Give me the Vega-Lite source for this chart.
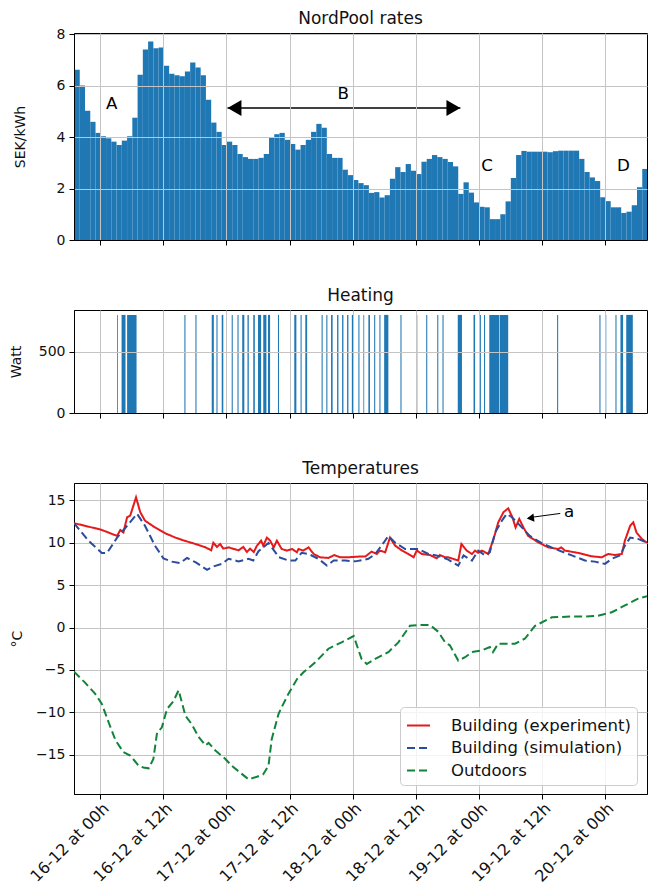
{
  "$schema": "https://vega.github.io/schema/vega-lite/v6.json",
  "padding": {"left": 8, "top": 9, "right": 0, "bottom": 0},
  "spacing": 70,
  "bounds": "flush",
  "config": {
    "font": "DejaVu Sans",
    "view": {"stroke": "#000", "strokeWidth": 1},
    "axis": {"domainColor": "#000", "domainWidth": 1, "tickColor": "#000", "tickSize": 5, "tickWidth": 1, "labelFontSize": 14, "labelColor": "#111", "labelPadding": 4, "titleFontSize": 14, "titleFontWeight": "normal", "titleColor": "#111", "gridColor": "#c4c4c4", "gridWidth": 1},
    "title": {"fontSize": 17, "fontWeight": "normal", "color": "#111"},
    "legend": {"fillColor": "rgba(255,255,255,0.8)", "strokeColor": "#cccccc", "cornerRadius": 4, "padding": 6, "symbolType": "stroke", "symbolSize": 529, "symbolStrokeWidth": 2, "labelFontSize": 16.5, "labelColor": "#111", "rowPadding": 1.5, "labelOffset": 20, "labelLimit": 400}
  },
  "datasets": {
    "price": [
      {"t": "2022-12-15T19:00Z", "p": 6.61}, {"t": "2022-12-15T20:00Z", "p": 6.0}, {"t": "2022-12-15T21:00Z", "p": 5.02}, {"t": "2022-12-15T22:00Z", "p": 4.59}, {"t": "2022-12-15T23:00Z", "p": 4.16},
      {"t": "2022-12-16T00:00Z", "p": 4.03}, {"t": "2022-12-16T01:00Z", "p": 3.95}, {"t": "2022-12-16T02:00Z", "p": 3.82}, {"t": "2022-12-16T03:00Z", "p": 3.69}, {"t": "2022-12-16T04:00Z", "p": 3.86}, {"t": "2022-12-16T05:00Z", "p": 4.03}, {"t": "2022-12-16T06:00Z", "p": 4.75}, {"t": "2022-12-16T07:00Z", "p": 6.42}, {"t": "2022-12-16T08:00Z", "p": 7.4}, {"t": "2022-12-16T09:00Z", "p": 7.71}, {"t": "2022-12-16T10:00Z", "p": 7.45}, {"t": "2022-12-16T11:00Z", "p": 7.48}, {"t": "2022-12-16T12:00Z", "p": 6.77}, {"t": "2022-12-16T13:00Z", "p": 6.46}, {"t": "2022-12-16T14:00Z", "p": 6.4}, {"t": "2022-12-16T15:00Z", "p": 6.36}, {"t": "2022-12-16T16:00Z", "p": 6.54}, {"t": "2022-12-16T17:00Z", "p": 6.89}, {"t": "2022-12-16T18:00Z", "p": 6.7}, {"t": "2022-12-16T19:00Z", "p": 6.4}, {"t": "2022-12-16T20:00Z", "p": 5.45}, {"t": "2022-12-16T21:00Z", "p": 4.56}, {"t": "2022-12-16T22:00Z", "p": 4.2}, {"t": "2022-12-16T23:00Z", "p": 3.69},
      {"t": "2022-12-17T00:00Z", "p": 3.82}, {"t": "2022-12-17T01:00Z", "p": 3.69}, {"t": "2022-12-17T02:00Z", "p": 3.34}, {"t": "2022-12-17T03:00Z", "p": 3.22}, {"t": "2022-12-17T04:00Z", "p": 3.15}, {"t": "2022-12-17T05:00Z", "p": 3.15}, {"t": "2022-12-17T06:00Z", "p": 3.19}, {"t": "2022-12-17T07:00Z", "p": 3.34}, {"t": "2022-12-17T08:00Z", "p": 3.97}, {"t": "2022-12-17T09:00Z", "p": 4.11}, {"t": "2022-12-17T10:00Z", "p": 4.16}, {"t": "2022-12-17T11:00Z", "p": 3.89}, {"t": "2022-12-17T12:00Z", "p": 3.73}, {"t": "2022-12-17T13:00Z", "p": 3.51}, {"t": "2022-12-17T14:00Z", "p": 3.69}, {"t": "2022-12-17T15:00Z", "p": 3.89}, {"t": "2022-12-17T16:00Z", "p": 4.2}, {"t": "2022-12-17T17:00Z", "p": 4.51}, {"t": "2022-12-17T18:00Z", "p": 4.36}, {"t": "2022-12-17T19:00Z", "p": 3.34}, {"t": "2022-12-17T20:00Z", "p": 3.19}, {"t": "2022-12-17T21:00Z", "p": 3.19}, {"t": "2022-12-17T22:00Z", "p": 2.73}, {"t": "2022-12-17T23:00Z", "p": 2.52},
      {"t": "2022-12-18T00:00Z", "p": 2.33}, {"t": "2022-12-18T01:00Z", "p": 2.21}, {"t": "2022-12-18T02:00Z", "p": 2.13}, {"t": "2022-12-18T03:00Z", "p": 1.83}, {"t": "2022-12-18T04:00Z", "p": 1.86}, {"t": "2022-12-18T05:00Z", "p": 1.65}, {"t": "2022-12-18T06:00Z", "p": 1.74}, {"t": "2022-12-18T07:00Z", "p": 2.38}, {"t": "2022-12-18T08:00Z", "p": 2.83}, {"t": "2022-12-18T09:00Z", "p": 2.64}, {"t": "2022-12-18T10:00Z", "p": 2.95}, {"t": "2022-12-18T11:00Z", "p": 2.69}, {"t": "2022-12-18T12:00Z", "p": 2.56}, {"t": "2022-12-18T13:00Z", "p": 3.04}, {"t": "2022-12-18T14:00Z", "p": 3.15}, {"t": "2022-12-18T15:00Z", "p": 3.3}, {"t": "2022-12-18T16:00Z", "p": 3.22}, {"t": "2022-12-18T17:00Z", "p": 3.15}, {"t": "2022-12-18T18:00Z", "p": 3.03}, {"t": "2022-12-18T19:00Z", "p": 2.86}, {"t": "2022-12-18T20:00Z", "p": 1.79}, {"t": "2022-12-18T21:00Z", "p": 2.24}, {"t": "2022-12-18T22:00Z", "p": 1.84}, {"t": "2022-12-18T23:00Z", "p": 1.46},
      {"t": "2022-12-19T00:00Z", "p": 1.29}, {"t": "2022-12-19T01:00Z", "p": 1.27}, {"t": "2022-12-19T02:00Z", "p": 0.81}, {"t": "2022-12-19T03:00Z", "p": 0.81}, {"t": "2022-12-19T04:00Z", "p": 1.0}, {"t": "2022-12-19T05:00Z", "p": 1.5}, {"t": "2022-12-19T06:00Z", "p": 2.41}, {"t": "2022-12-19T07:00Z", "p": 3.3}, {"t": "2022-12-19T08:00Z", "p": 3.46}, {"t": "2022-12-19T09:00Z", "p": 3.43}, {"t": "2022-12-19T10:00Z", "p": 3.43}, {"t": "2022-12-19T11:00Z", "p": 3.43}, {"t": "2022-12-19T12:00Z", "p": 3.43}, {"t": "2022-12-19T13:00Z", "p": 3.41}, {"t": "2022-12-19T14:00Z", "p": 3.45}, {"t": "2022-12-19T15:00Z", "p": 3.47}, {"t": "2022-12-19T16:00Z", "p": 3.47}, {"t": "2022-12-19T17:00Z", "p": 3.47}, {"t": "2022-12-19T18:00Z", "p": 3.47}, {"t": "2022-12-19T19:00Z", "p": 3.15}, {"t": "2022-12-19T20:00Z", "p": 2.64}, {"t": "2022-12-19T21:00Z", "p": 2.43}, {"t": "2022-12-19T22:00Z", "p": 2.29}, {"t": "2022-12-19T23:00Z", "p": 1.66},
      {"t": "2022-12-20T00:00Z", "p": 1.51}, {"t": "2022-12-20T01:00Z", "p": 1.27}, {"t": "2022-12-20T02:00Z", "p": 1.27}, {"t": "2022-12-20T03:00Z", "p": 1.05}, {"t": "2022-12-20T04:00Z", "p": 1.1}, {"t": "2022-12-20T05:00Z", "p": 1.35}, {"t": "2022-12-20T06:00Z", "p": 2.05}, {"t": "2022-12-20T07:00Z", "p": 2.76}
    ],
    "heat": [
      {"start": "2022-12-16T03:12Z", "end": "2022-12-16T03:21Z", "w": 800},
      {"start": "2022-12-16T04:03Z", "end": "2022-12-16T04:48Z", "w": 800},
      {"start": "2022-12-16T05:06Z", "end": "2022-12-16T06:54Z", "w": 800},
      {"start": "2022-12-16T16:00Z", "end": "2022-12-16T16:12Z", "w": 800},
      {"start": "2022-12-16T18:06Z", "end": "2022-12-16T18:18Z", "w": 800},
      {"start": "2022-12-16T21:12Z", "end": "2022-12-16T21:36Z", "w": 800},
      {"start": "2022-12-16T22:06Z", "end": "2022-12-16T22:18Z", "w": 800},
      {"start": "2022-12-16T23:06Z", "end": "2022-12-16T23:24Z", "w": 800},
      {"start": "2022-12-17T01:00Z", "end": "2022-12-17T01:12Z", "w": 800},
      {"start": "2022-12-17T02:06Z", "end": "2022-12-17T02:18Z", "w": 800},
      {"start": "2022-12-17T03:00Z", "end": "2022-12-17T03:24Z", "w": 800},
      {"start": "2022-12-17T04:00Z", "end": "2022-12-17T04:15Z", "w": 800},
      {"start": "2022-12-17T05:06Z", "end": "2022-12-17T05:24Z", "w": 800},
      {"start": "2022-12-17T06:00Z", "end": "2022-12-17T06:36Z", "w": 800},
      {"start": "2022-12-17T07:00Z", "end": "2022-12-17T07:36Z", "w": 800},
      {"start": "2022-12-17T07:54Z", "end": "2022-12-17T08:18Z", "w": 800},
      {"start": "2022-12-17T09:48Z", "end": "2022-12-17T10:00Z", "w": 800},
      {"start": "2022-12-17T12:54Z", "end": "2022-12-17T13:18Z", "w": 800},
      {"start": "2022-12-17T14:06Z", "end": "2022-12-17T14:18Z", "w": 800},
      {"start": "2022-12-17T15:00Z", "end": "2022-12-17T15:21Z", "w": 800},
      {"start": "2022-12-17T18:06Z", "end": "2022-12-17T18:18Z", "w": 800},
      {"start": "2022-12-17T19:00Z", "end": "2022-12-17T19:12Z", "w": 800},
      {"start": "2022-12-17T19:54Z", "end": "2022-12-17T20:12Z", "w": 800},
      {"start": "2022-12-17T21:03Z", "end": "2022-12-17T21:18Z", "w": 800},
      {"start": "2022-12-17T22:00Z", "end": "2022-12-17T22:15Z", "w": 800},
      {"start": "2022-12-17T22:57Z", "end": "2022-12-17T23:12Z", "w": 800},
      {"start": "2022-12-17T23:51Z", "end": "2022-12-18T00:06Z", "w": 800},
      {"start": "2022-12-18T01:06Z", "end": "2022-12-18T01:18Z", "w": 800},
      {"start": "2022-12-18T02:03Z", "end": "2022-12-18T02:12Z", "w": 800},
      {"start": "2022-12-18T03:00Z", "end": "2022-12-18T03:18Z", "w": 800},
      {"start": "2022-12-18T04:06Z", "end": "2022-12-18T04:18Z", "w": 800},
      {"start": "2022-12-18T05:06Z", "end": "2022-12-18T05:18Z", "w": 800},
      {"start": "2022-12-18T06:00Z", "end": "2022-12-18T06:48Z", "w": 800},
      {"start": "2022-12-18T09:06Z", "end": "2022-12-18T09:18Z", "w": 800},
      {"start": "2022-12-18T12:06Z", "end": "2022-12-18T12:18Z", "w": 800},
      {"start": "2022-12-18T14:00Z", "end": "2022-12-18T14:12Z", "w": 800},
      {"start": "2022-12-18T16:06Z", "end": "2022-12-18T16:18Z", "w": 800},
      {"start": "2022-12-18T17:06Z", "end": "2022-12-18T17:18Z", "w": 800},
      {"start": "2022-12-18T20:00Z", "end": "2022-12-18T20:48Z", "w": 800},
      {"start": "2022-12-18T23:00Z", "end": "2022-12-18T23:18Z", "w": 800},
      {"start": "2022-12-19T00:06Z", "end": "2022-12-19T00:24Z", "w": 800},
      {"start": "2022-12-19T01:00Z", "end": "2022-12-19T01:12Z", "w": 800},
      {"start": "2022-12-19T02:00Z", "end": "2022-12-19T03:54Z", "w": 800},
      {"start": "2022-12-19T04:00Z", "end": "2022-12-19T05:36Z", "w": 800},
      {"start": "2022-12-19T14:54Z", "end": "2022-12-19T15:06Z", "w": 800},
      {"start": "2022-12-19T22:57Z", "end": "2022-12-19T23:09Z", "w": 800},
      {"start": "2022-12-20T00:03Z", "end": "2022-12-20T00:15Z", "w": 800},
      {"start": "2022-12-20T02:00Z", "end": "2022-12-20T02:12Z", "w": 800},
      {"start": "2022-12-20T02:57Z", "end": "2022-12-20T03:27Z", "w": 800},
      {"start": "2022-12-20T04:03Z", "end": "2022-12-20T05:18Z", "w": 800}
    ],
    "temp": [
      {"s": "Building (experiment)", "t": "2022-12-15T19:00Z", "T": 12.3},
      {"s": "Building (experiment)", "t": "2022-12-15T22:24Z", "T": 11.8},
      {"s": "Building (experiment)", "t": "2022-12-16T00:18Z", "T": 11.5},
      {"s": "Building (experiment)", "t": "2022-12-16T03:12Z", "T": 10.8},
      {"s": "Building (experiment)", "t": "2022-12-16T03:48Z", "T": 11.5},
      {"s": "Building (experiment)", "t": "2022-12-16T04:24Z", "T": 11.2},
      {"s": "Building (experiment)", "t": "2022-12-16T05:06Z", "T": 13.0},
      {"s": "Building (experiment)", "t": "2022-12-16T05:42Z", "T": 13.2},
      {"s": "Building (experiment)", "t": "2022-12-16T06:48Z", "T": 15.35},
      {"s": "Building (experiment)", "t": "2022-12-16T07:36Z", "T": 13.6},
      {"s": "Building (experiment)", "t": "2022-12-16T08:30Z", "T": 12.6},
      {"s": "Building (experiment)", "t": "2022-12-16T10:24Z", "T": 11.8},
      {"s": "Building (experiment)", "t": "2022-12-16T12:24Z", "T": 11.1},
      {"s": "Building (experiment)", "t": "2022-12-16T14:18Z", "T": 10.6},
      {"s": "Building (experiment)", "t": "2022-12-16T16:12Z", "T": 10.2},
      {"s": "Building (experiment)", "t": "2022-12-16T18:06Z", "T": 9.85},
      {"s": "Building (experiment)", "t": "2022-12-16T20:00Z", "T": 9.46},
      {"s": "Building (experiment)", "t": "2022-12-16T21:06Z", "T": 9.1},
      {"s": "Building (experiment)", "t": "2022-12-16T21:30Z", "T": 10.0},
      {"s": "Building (experiment)", "t": "2022-12-16T22:12Z", "T": 9.5},
      {"s": "Building (experiment)", "t": "2022-12-16T22:48Z", "T": 9.85},
      {"s": "Building (experiment)", "t": "2022-12-16T23:24Z", "T": 9.3},
      {"s": "Building (experiment)", "t": "2022-12-17T00:24Z", "T": 9.45},
      {"s": "Building (experiment)", "t": "2022-12-17T02:18Z", "T": 9.1},
      {"s": "Building (experiment)", "t": "2022-12-17T03:12Z", "T": 9.5},
      {"s": "Building (experiment)", "t": "2022-12-17T03:54Z", "T": 8.9},
      {"s": "Building (experiment)", "t": "2022-12-17T04:30Z", "T": 9.3},
      {"s": "Building (experiment)", "t": "2022-12-17T05:12Z", "T": 8.9},
      {"s": "Building (experiment)", "t": "2022-12-17T05:48Z", "T": 9.65},
      {"s": "Building (experiment)", "t": "2022-12-17T06:36Z", "T": 10.25},
      {"s": "Building (experiment)", "t": "2022-12-17T07:00Z", "T": 9.65},
      {"s": "Building (experiment)", "t": "2022-12-17T07:42Z", "T": 10.6},
      {"s": "Building (experiment)", "t": "2022-12-17T08:18Z", "T": 10.25},
      {"s": "Building (experiment)", "t": "2022-12-17T09:00Z", "T": 9.45},
      {"s": "Building (experiment)", "t": "2022-12-17T09:36Z", "T": 10.25},
      {"s": "Building (experiment)", "t": "2022-12-17T10:30Z", "T": 9.26},
      {"s": "Building (experiment)", "t": "2022-12-17T11:30Z", "T": 9.07},
      {"s": "Building (experiment)", "t": "2022-12-17T12:30Z", "T": 9.26},
      {"s": "Building (experiment)", "t": "2022-12-17T13:24Z", "T": 8.87},
      {"s": "Building (experiment)", "t": "2022-12-17T13:42Z", "T": 9.26},
      {"s": "Building (experiment)", "t": "2022-12-17T14:36Z", "T": 9.07},
      {"s": "Building (experiment)", "t": "2022-12-17T15:36Z", "T": 9.45},
      {"s": "Building (experiment)", "t": "2022-12-17T16:36Z", "T": 8.67},
      {"s": "Building (experiment)", "t": "2022-12-17T17:48Z", "T": 8.28},
      {"s": "Building (experiment)", "t": "2022-12-17T19:24Z", "T": 8.2},
      {"s": "Building (experiment)", "t": "2022-12-17T20:30Z", "T": 8.55},
      {"s": "Building (experiment)", "t": "2022-12-17T21:36Z", "T": 8.28},
      {"s": "Building (experiment)", "t": "2022-12-17T23:12Z", "T": 8.28},
      {"s": "Building (experiment)", "t": "2022-12-18T01:06Z", "T": 8.36},
      {"s": "Building (experiment)", "t": "2022-12-18T02:24Z", "T": 8.36},
      {"s": "Building (experiment)", "t": "2022-12-18T03:36Z", "T": 8.95},
      {"s": "Building (experiment)", "t": "2022-12-18T04:36Z", "T": 8.67},
      {"s": "Building (experiment)", "t": "2022-12-18T05:12Z", "T": 9.07},
      {"s": "Building (experiment)", "t": "2022-12-18T06:12Z", "T": 8.87},
      {"s": "Building (experiment)", "t": "2022-12-18T07:06Z", "T": 10.6},
      {"s": "Building (experiment)", "t": "2022-12-18T08:06Z", "T": 9.65},
      {"s": "Building (experiment)", "t": "2022-12-18T09:24Z", "T": 9.07},
      {"s": "Building (experiment)", "t": "2022-12-18T10:36Z", "T": 8.67},
      {"s": "Building (experiment)", "t": "2022-12-18T11:36Z", "T": 8.28},
      {"s": "Building (experiment)", "t": "2022-12-18T12:12Z", "T": 9.07},
      {"s": "Building (experiment)", "t": "2022-12-18T13:12Z", "T": 8.67},
      {"s": "Building (experiment)", "t": "2022-12-18T14:42Z", "T": 8.55},
      {"s": "Building (experiment)", "t": "2022-12-18T16:00Z", "T": 8.16},
      {"s": "Building (experiment)", "t": "2022-12-18T16:36Z", "T": 8.55},
      {"s": "Building (experiment)", "t": "2022-12-18T17:36Z", "T": 8.28},
      {"s": "Building (experiment)", "t": "2022-12-18T18:12Z", "T": 8.28},
      {"s": "Building (experiment)", "t": "2022-12-18T20:06Z", "T": 7.9},
      {"s": "Building (experiment)", "t": "2022-12-18T20:42Z", "T": 9.85},
      {"s": "Building (experiment)", "t": "2022-12-18T21:42Z", "T": 9.07},
      {"s": "Building (experiment)", "t": "2022-12-18T22:42Z", "T": 8.67},
      {"s": "Building (experiment)", "t": "2022-12-18T23:18Z", "T": 9.07},
      {"s": "Building (experiment)", "t": "2022-12-18T23:54Z", "T": 8.8},
      {"s": "Building (experiment)", "t": "2022-12-19T00:36Z", "T": 9.07},
      {"s": "Building (experiment)", "t": "2022-12-19T01:48Z", "T": 8.67},
      {"s": "Building (experiment)", "t": "2022-12-19T02:48Z", "T": 10.4},
      {"s": "Building (experiment)", "t": "2022-12-19T03:42Z", "T": 12.4},
      {"s": "Building (experiment)", "t": "2022-12-19T04:42Z", "T": 13.6},
      {"s": "Building (experiment)", "t": "2022-12-19T05:36Z", "T": 14.05},
      {"s": "Building (experiment)", "t": "2022-12-19T06:24Z", "T": 13.0},
      {"s": "Building (experiment)", "t": "2022-12-19T07:00Z", "T": 11.8},
      {"s": "Building (experiment)", "t": "2022-12-19T07:42Z", "T": 12.8},
      {"s": "Building (experiment)", "t": "2022-12-19T08:30Z", "T": 11.8},
      {"s": "Building (experiment)", "t": "2022-12-19T09:24Z", "T": 10.8},
      {"s": "Building (experiment)", "t": "2022-12-19T11:18Z", "T": 10.05},
      {"s": "Building (experiment)", "t": "2022-12-19T13:12Z", "T": 9.45},
      {"s": "Building (experiment)", "t": "2022-12-19T15:06Z", "T": 9.26},
      {"s": "Building (experiment)", "t": "2022-12-19T15:42Z", "T": 9.45},
      {"s": "Building (experiment)", "t": "2022-12-19T16:24Z", "T": 9.07},
      {"s": "Building (experiment)", "t": "2022-12-19T18:54Z", "T": 8.8},
      {"s": "Building (experiment)", "t": "2022-12-19T21:30Z", "T": 8.4},
      {"s": "Building (experiment)", "t": "2022-12-19T23:24Z", "T": 8.28},
      {"s": "Building (experiment)", "t": "2022-12-20T00:36Z", "T": 8.67},
      {"s": "Building (experiment)", "t": "2022-12-20T01:54Z", "T": 8.55},
      {"s": "Building (experiment)", "t": "2022-12-20T03:12Z", "T": 8.67},
      {"s": "Building (experiment)", "t": "2022-12-20T03:48Z", "T": 10.25},
      {"s": "Building (experiment)", "t": "2022-12-20T04:48Z", "T": 12.0},
      {"s": "Building (experiment)", "t": "2022-12-20T05:24Z", "T": 12.4},
      {"s": "Building (experiment)", "t": "2022-12-20T06:00Z", "T": 11.2},
      {"s": "Building (experiment)", "t": "2022-12-20T07:00Z", "T": 10.45},
      {"s": "Building (experiment)", "t": "2022-12-20T08:00Z", "T": 10.0},
      {"s": "Building (simulation)", "t": "2022-12-15T19:00Z", "T": 12.3},
      {"s": "Building (simulation)", "t": "2022-12-15T21:48Z", "T": 10.2},
      {"s": "Building (simulation)", "t": "2022-12-16T00:18Z", "T": 8.8},
      {"s": "Building (simulation)", "t": "2022-12-16T01:18Z", "T": 8.8},
      {"s": "Building (simulation)", "t": "2022-12-16T03:12Z", "T": 10.6},
      {"s": "Building (simulation)", "t": "2022-12-16T05:06Z", "T": 12.0},
      {"s": "Building (simulation)", "t": "2022-12-16T07:00Z", "T": 13.4},
      {"s": "Building (simulation)", "t": "2022-12-16T08:30Z", "T": 12.0},
      {"s": "Building (simulation)", "t": "2022-12-16T10:24Z", "T": 9.65},
      {"s": "Building (simulation)", "t": "2022-12-16T12:00Z", "T": 8.16},
      {"s": "Building (simulation)", "t": "2022-12-16T13:36Z", "T": 7.77},
      {"s": "Building (simulation)", "t": "2022-12-16T15:12Z", "T": 7.6},
      {"s": "Building (simulation)", "t": "2022-12-16T16:30Z", "T": 8.2},
      {"s": "Building (simulation)", "t": "2022-12-16T18:06Z", "T": 7.7},
      {"s": "Building (simulation)", "t": "2022-12-16T20:18Z", "T": 6.8},
      {"s": "Building (simulation)", "t": "2022-12-16T21:30Z", "T": 7.2},
      {"s": "Building (simulation)", "t": "2022-12-16T23:06Z", "T": 7.5},
      {"s": "Building (simulation)", "t": "2022-12-17T00:24Z", "T": 8.1},
      {"s": "Building (simulation)", "t": "2022-12-17T02:18Z", "T": 7.8},
      {"s": "Building (simulation)", "t": "2022-12-17T04:12Z", "T": 8.1},
      {"s": "Building (simulation)", "t": "2022-12-17T05:06Z", "T": 7.9},
      {"s": "Building (simulation)", "t": "2022-12-17T06:06Z", "T": 9.0},
      {"s": "Building (simulation)", "t": "2022-12-17T08:00Z", "T": 9.97},
      {"s": "Building (simulation)", "t": "2022-12-17T10:00Z", "T": 8.28},
      {"s": "Building (simulation)", "t": "2022-12-17T11:48Z", "T": 7.9},
      {"s": "Building (simulation)", "t": "2022-12-17T13:06Z", "T": 7.9},
      {"s": "Building (simulation)", "t": "2022-12-17T14:18Z", "T": 8.8},
      {"s": "Building (simulation)", "t": "2022-12-17T15:36Z", "T": 8.67},
      {"s": "Building (simulation)", "t": "2022-12-17T17:30Z", "T": 8.1},
      {"s": "Building (simulation)", "t": "2022-12-17T19:06Z", "T": 7.3},
      {"s": "Building (simulation)", "t": "2022-12-17T20:24Z", "T": 7.9},
      {"s": "Building (simulation)", "t": "2022-12-17T22:36Z", "T": 7.9},
      {"s": "Building (simulation)", "t": "2022-12-18T00:30Z", "T": 7.8},
      {"s": "Building (simulation)", "t": "2022-12-18T03:00Z", "T": 8.1},
      {"s": "Building (simulation)", "t": "2022-12-18T04:18Z", "T": 8.67},
      {"s": "Building (simulation)", "t": "2022-12-18T05:54Z", "T": 10.0},
      {"s": "Building (simulation)", "t": "2022-12-18T06:48Z", "T": 10.8},
      {"s": "Building (simulation)", "t": "2022-12-18T08:06Z", "T": 10.0},
      {"s": "Building (simulation)", "t": "2022-12-18T10:00Z", "T": 9.26},
      {"s": "Building (simulation)", "t": "2022-12-18T12:30Z", "T": 9.26},
      {"s": "Building (simulation)", "t": "2022-12-18T14:24Z", "T": 8.67},
      {"s": "Building (simulation)", "t": "2022-12-18T16:18Z", "T": 8.45},
      {"s": "Building (simulation)", "t": "2022-12-18T18:12Z", "T": 8.0},
      {"s": "Building (simulation)", "t": "2022-12-18T20:06Z", "T": 7.3},
      {"s": "Building (simulation)", "t": "2022-12-18T21:06Z", "T": 8.5},
      {"s": "Building (simulation)", "t": "2022-12-18T22:42Z", "T": 7.9},
      {"s": "Building (simulation)", "t": "2022-12-18T23:54Z", "T": 9.07},
      {"s": "Building (simulation)", "t": "2022-12-19T01:12Z", "T": 8.5},
      {"s": "Building (simulation)", "t": "2022-12-19T02:06Z", "T": 8.87},
      {"s": "Building (simulation)", "t": "2022-12-19T03:06Z", "T": 11.2},
      {"s": "Building (simulation)", "t": "2022-12-19T04:24Z", "T": 12.6},
      {"s": "Building (simulation)", "t": "2022-12-19T05:18Z", "T": 13.4},
      {"s": "Building (simulation)", "t": "2022-12-19T06:18Z", "T": 13.0},
      {"s": "Building (simulation)", "t": "2022-12-19T07:54Z", "T": 12.0},
      {"s": "Building (simulation)", "t": "2022-12-19T09:42Z", "T": 10.8},
      {"s": "Building (simulation)", "t": "2022-12-19T11:54Z", "T": 9.97},
      {"s": "Building (simulation)", "t": "2022-12-19T14:30Z", "T": 9.26},
      {"s": "Building (simulation)", "t": "2022-12-19T17:42Z", "T": 8.5},
      {"s": "Building (simulation)", "t": "2022-12-19T20:12Z", "T": 7.9},
      {"s": "Building (simulation)", "t": "2022-12-19T22:06Z", "T": 7.77},
      {"s": "Building (simulation)", "t": "2022-12-20T00:00Z", "T": 7.5},
      {"s": "Building (simulation)", "t": "2022-12-20T01:18Z", "T": 8.1},
      {"s": "Building (simulation)", "t": "2022-12-20T02:54Z", "T": 8.5},
      {"s": "Building (simulation)", "t": "2022-12-20T03:48Z", "T": 9.65},
      {"s": "Building (simulation)", "t": "2022-12-20T04:48Z", "T": 10.6},
      {"s": "Building (simulation)", "t": "2022-12-20T06:18Z", "T": 10.45},
      {"s": "Building (simulation)", "t": "2022-12-20T08:00Z", "T": 10.0},
      {"s": "Outdoors", "t": "2022-12-15T19:00Z", "T": -5.2},
      {"s": "Outdoors", "t": "2022-12-15T21:06Z", "T": -6.5},
      {"s": "Outdoors", "t": "2022-12-15T23:00Z", "T": -7.8},
      {"s": "Outdoors", "t": "2022-12-16T00:18Z", "T": -9.0},
      {"s": "Outdoors", "t": "2022-12-16T01:36Z", "T": -11.2},
      {"s": "Outdoors", "t": "2022-12-16T02:54Z", "T": -13.3},
      {"s": "Outdoors", "t": "2022-12-16T04:24Z", "T": -14.7},
      {"s": "Outdoors", "t": "2022-12-16T05:42Z", "T": -15.1},
      {"s": "Outdoors", "t": "2022-12-16T07:18Z", "T": -16.3},
      {"s": "Outdoors", "t": "2022-12-16T08:12Z", "T": -16.5},
      {"s": "Outdoors", "t": "2022-12-16T09:12Z", "T": -16.6},
      {"s": "Outdoors", "t": "2022-12-16T10:06Z", "T": -15.5},
      {"s": "Outdoors", "t": "2022-12-16T10:48Z", "T": -12.4},
      {"s": "Outdoors", "t": "2022-12-16T11:42Z", "T": -11.8},
      {"s": "Outdoors", "t": "2022-12-16T12:42Z", "T": -9.6},
      {"s": "Outdoors", "t": "2022-12-16T13:54Z", "T": -8.7},
      {"s": "Outdoors", "t": "2022-12-16T14:54Z", "T": -7.4},
      {"s": "Outdoors", "t": "2022-12-16T16:12Z", "T": -10.4},
      {"s": "Outdoors", "t": "2022-12-16T17:24Z", "T": -11.4},
      {"s": "Outdoors", "t": "2022-12-16T18:42Z", "T": -12.9},
      {"s": "Outdoors", "t": "2022-12-16T20:00Z", "T": -13.9},
      {"s": "Outdoors", "t": "2022-12-16T20:36Z", "T": -13.6},
      {"s": "Outdoors", "t": "2022-12-16T21:54Z", "T": -14.5},
      {"s": "Outdoors", "t": "2022-12-16T23:48Z", "T": -15.5},
      {"s": "Outdoors", "t": "2022-12-17T01:00Z", "T": -16.3},
      {"s": "Outdoors", "t": "2022-12-17T02:36Z", "T": -17.1},
      {"s": "Outdoors", "t": "2022-12-17T04:12Z", "T": -17.9},
      {"s": "Outdoors", "t": "2022-12-17T05:48Z", "T": -17.6},
      {"s": "Outdoors", "t": "2022-12-17T07:00Z", "T": -17.3},
      {"s": "Outdoors", "t": "2022-12-17T08:00Z", "T": -16.3},
      {"s": "Outdoors", "t": "2022-12-17T08:36Z", "T": -13.2},
      {"s": "Outdoors", "t": "2022-12-17T09:54Z", "T": -10.2},
      {"s": "Outdoors", "t": "2022-12-17T10:30Z", "T": -9.4},
      {"s": "Outdoors", "t": "2022-12-17T11:48Z", "T": -7.8},
      {"s": "Outdoors", "t": "2022-12-17T13:24Z", "T": -6.1},
      {"s": "Outdoors", "t": "2022-12-17T14:36Z", "T": -5.3},
      {"s": "Outdoors", "t": "2022-12-17T16:54Z", "T": -4.1},
      {"s": "Outdoors", "t": "2022-12-17T19:24Z", "T": -2.5},
      {"s": "Outdoors", "t": "2022-12-17T21:54Z", "T": -1.75},
      {"s": "Outdoors", "t": "2022-12-18T00:12Z", "T": -1.0},
      {"s": "Outdoors", "t": "2022-12-18T01:42Z", "T": -3.7},
      {"s": "Outdoors", "t": "2022-12-18T02:42Z", "T": -4.3},
      {"s": "Outdoors", "t": "2022-12-18T04:18Z", "T": -3.7},
      {"s": "Outdoors", "t": "2022-12-18T06:48Z", "T": -2.9},
      {"s": "Outdoors", "t": "2022-12-18T08:42Z", "T": -1.75},
      {"s": "Outdoors", "t": "2022-12-18T10:54Z", "T": 0.2},
      {"s": "Outdoors", "t": "2022-12-18T13:12Z", "T": 0.3},
      {"s": "Outdoors", "t": "2022-12-18T14:42Z", "T": 0.3},
      {"s": "Outdoors", "t": "2022-12-18T16:18Z", "T": -0.5},
      {"s": "Outdoors", "t": "2022-12-18T17:36Z", "T": -1.75},
      {"s": "Outdoors", "t": "2022-12-18T18:30Z", "T": -2.1},
      {"s": "Outdoors", "t": "2022-12-18T20:06Z", "T": -3.9},
      {"s": "Outdoors", "t": "2022-12-18T21:24Z", "T": -3.5},
      {"s": "Outdoors", "t": "2022-12-18T22:42Z", "T": -2.9},
      {"s": "Outdoors", "t": "2022-12-19T00:36Z", "T": -2.7},
      {"s": "Outdoors", "t": "2022-12-19T02:06Z", "T": -2.3},
      {"s": "Outdoors", "t": "2022-12-19T02:42Z", "T": -2.9},
      {"s": "Outdoors", "t": "2022-12-19T03:42Z", "T": -1.9},
      {"s": "Outdoors", "t": "2022-12-19T06:54Z", "T": -1.9},
      {"s": "Outdoors", "t": "2022-12-19T08:48Z", "T": -1.3},
      {"s": "Outdoors", "t": "2022-12-19T10:42Z", "T": 0.2},
      {"s": "Outdoors", "t": "2022-12-19T13:54Z", "T": 1.2},
      {"s": "Outdoors", "t": "2022-12-19T17:42Z", "T": 1.3},
      {"s": "Outdoors", "t": "2022-12-19T20:12Z", "T": 1.3},
      {"s": "Outdoors", "t": "2022-12-19T22:42Z", "T": 1.4},
      {"s": "Outdoors", "t": "2022-12-20T01:18Z", "T": 1.8},
      {"s": "Outdoors", "t": "2022-12-20T03:48Z", "T": 2.6},
      {"s": "Outdoors", "t": "2022-12-20T06:18Z", "T": 3.4},
      {"s": "Outdoors", "t": "2022-12-20T08:00Z", "T": 3.7}
    ],
    "notes": [
      {"t": "2022-12-16T02:09Z", "v": 5.27, "label": "A"},
      {"t": "2022-12-17T22:12Z", "v": 5.66, "label": "B"},
      {"t": "2022-12-19T01:36Z", "v": 2.86, "label": "C"},
      {"t": "2022-12-20T03:30Z", "v": 2.86, "label": "D"}
    ]
  },
  "vconcat": [
    {
      "width": 573,
      "height": 207,
      "title": {"text": "NordPool rates", "offset": -1},
      "layer": [
        {
          "data": {"name": "price"},
          "mark": {"type": "bar", "color": "#1f77b4", "clip": true, "binSpacing": 0},
          "encoding": {
            "x": {"field": "t", "type": "temporal", "timeUnit": "utcyearmonthdatehours",
              "scale": {"type": "utc", "domain": [1671130800000, 1671523200000]},
              "axis": {"title": null, "labels": false, "values": [1671148800000, 1671192000000, 1671235200000, 1671278400000, 1671321600000, 1671364800000, 1671408000000, 1671451200000, 1671494400000], "grid": true, "zindex": 1}},
            "y": {"field": "p", "type": "quantitative", "scale": {"domain": [0, 8.04], "nice": false},
              "axis": {"title": "SEK/kWh", "values": [0, 2, 4, 6, 8], "grid": true, "zindex": 1, "titlePadding": 29}}
          }
        },
        {
          "data": {"name": "notes"},
          "mark": {"type": "text", "fontSize": 16.7, "color": "#000", "clip": true},
          "encoding": {
            "x": {"field": "t", "type": "temporal"},
            "y": {"field": "v", "type": "quantitative"},
            "text": {"field": "label"}
          }
        },
        {
          "data": {"values": [{"t1": "2022-12-17T00:12Z", "t2": "2022-12-18T20:30Z", "v": 5.13}]},
          "mark": {"type": "rule", "strokeWidth": 1.5, "color": "#000", "clip": true},
          "encoding": {
            "x": {"field": "t1", "type": "temporal"},
            "x2": {"field": "t2"},
            "y": {"field": "v", "type": "quantitative"}
          }
        },
        {
          "data": {"values": [{"t": "2022-12-17T00:12Z", "v": 5.13}]},
          "mark": {"type": "point", "shape": "triangle-left", "size": 256, "filled": true, "color": "#000", "opacity": 1, "xOffset": 7, "clip": true},
          "encoding": {
            "x": {"field": "t", "type": "temporal"},
            "y": {"field": "v", "type": "quantitative"}
          }
        },
        {
          "data": {"values": [{"t": "2022-12-18T20:30Z", "v": 5.13}]},
          "mark": {"type": "point", "shape": "triangle-right", "size": 256, "filled": true, "color": "#000", "opacity": 1, "xOffset": -7, "clip": true},
          "encoding": {
            "x": {"field": "t", "type": "temporal"},
            "y": {"field": "v", "type": "quantitative"}
          }
        }
      ]
    },
    {
      "width": 573,
      "height": 103,
      "title": {"text": "Heating", "offset": 5},
      "data": {"name": "heat"},
      "mark": {"type": "rect", "color": "#1f77b4", "clip": true},
      "encoding": {
        "x": {"field": "start", "type": "temporal",
          "scale": {"type": "utc", "domain": [1671130800000, 1671523200000]},
          "axis": {"title": null, "labels": false, "values": [1671148800000, 1671192000000, 1671235200000, 1671278400000, 1671321600000, 1671364800000, 1671408000000, 1671451200000, 1671494400000], "grid": true, "zindex": 1}},
        "x2": {"field": "end"},
        "y": {"field": "w", "type": "quantitative", "scale": {"domain": [0, 840], "nice": false},
          "axis": {"title": "Watt", "values": [0, 500], "grid": true, "zindex": 1, "titlePadding": 15}},
        "y2": {"datum": 0}
      }
    },
    {
      "width": 573,
      "height": 311,
      "title": {"text": "Temperatures", "offset": 5},
      "layer": [
        {
          "data": {"name": "temp"},
          "mark": {"type": "line", "strokeWidth": 2, "clip": true},
          "encoding": {
            "x": {"field": "t", "type": "temporal",
              "scale": {"type": "utc", "domain": [1671130800000, 1671523200000]},
              "axis": {"title": null, "format": "%d-%m at %Hh", "values": [1671148800000, 1671192000000, 1671235200000, 1671278400000, 1671321600000, 1671364800000, 1671408000000, 1671451200000, 1671494400000], "grid": true, "labelAngle": -45, "labelAlign": "right", "labelBaseline": "top", "labelPadding": 1, "labelFontSize": 16, "labelOverlap": false, "labelBound": false, "labelFlush": false}},
            "y": {"field": "T", "type": "quantitative", "scale": {"domain": [-19.63, 17.04], "nice": false},
              "axis": {"title": "°C", "values": [-15, -10, -5, 0, 5, 10, 15], "grid": true, "titlePadding": 11}},
            "color": {"field": "s", "type": "nominal",
              "scale": {"domain": ["Building (experiment)", "Building (simulation)", "Outdoors"], "range": ["#e41a1c", "#2b4c9b", "#11843a"]},
              "legend": {"title": null, "orient": "none", "legendX": 326, "legendY": 674}},
            "strokeDash": {"field": "s", "type": "nominal",
              "scale": {"domain": ["Building (experiment)", "Building (simulation)", "Outdoors"], "range": [[1, 0], [8, 4], [8, 4]]},
              "legend": {"title": null, "orient": "none", "legendX": 326, "legendY": 674}}
          }
        },
        {
          "data": {"values": [{"t": "2022-12-19T17:12Z", "v": 13.6, "label": "a"}]},
          "mark": {"type": "text", "fontSize": 16.7, "color": "#000", "clip": true},
          "encoding": {
            "x": {"field": "t", "type": "temporal"},
            "y": {"field": "v", "type": "quantitative"},
            "text": {"field": "label"}
          }
        },
        {
          "data": {"values": [{"t1": "2022-12-19T15:30Z", "v1": 13.45, "t2": "2022-12-19T09:30Z", "v2": 12.95}]},
          "mark": {"type": "rule", "strokeWidth": 1, "color": "#000", "clip": true},
          "encoding": {
            "x": {"field": "t1", "type": "temporal"},
            "x2": {"field": "t2"},
            "y": {"field": "v1", "type": "quantitative"},
            "y2": {"field": "v2"}
          }
        },
        {
          "data": {"values": [{"t": "2022-12-19T09:03Z", "v": 12.9}]},
          "mark": {"type": "point", "shape": "triangle-left", "size": 70, "filled": true, "color": "#000", "opacity": 1, "xOffset": 4, "angle": -7, "clip": true},
          "encoding": {
            "x": {"field": "t", "type": "temporal"},
            "y": {"field": "v", "type": "quantitative"}
          }
        }
      ]
    }
  ]
}
